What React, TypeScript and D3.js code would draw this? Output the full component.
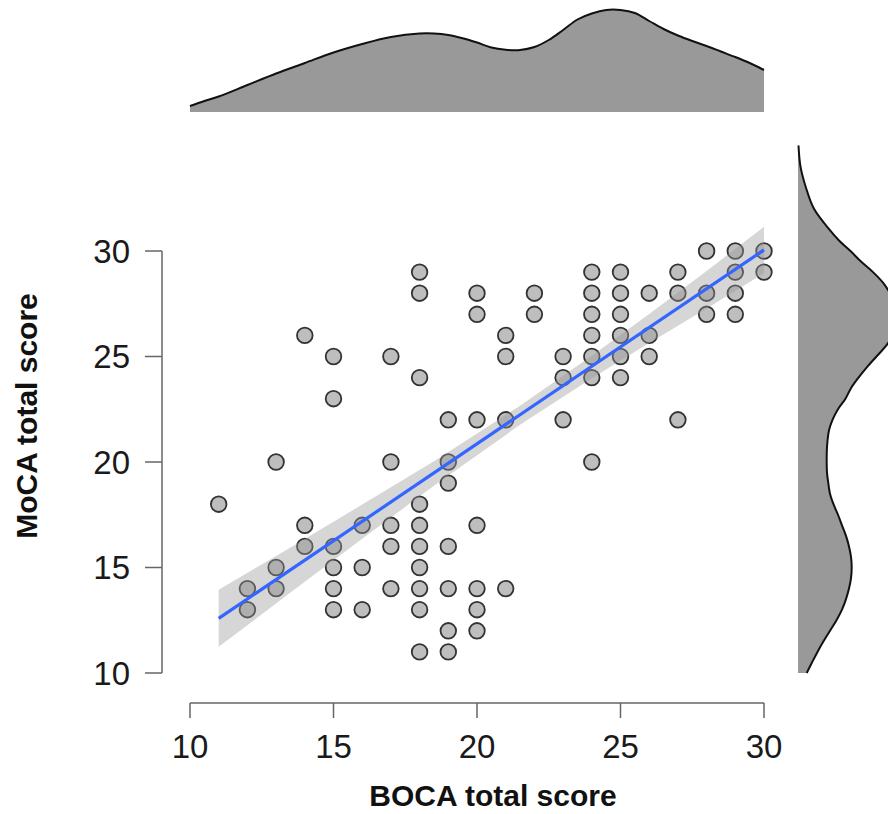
import React from "react";
import * as d3 from "d3";

// BOCA (x) and MoCA (y) total scores
const bocaScore = [
  11,
  12, 12,
  13, 13, 13,
  14, 14, 14,
  15, 15, 15, 15, 15, 15,
  16, 16, 16,
  17, 17, 17, 17, 17,
  18, 18, 18, 18, 18, 18, 18, 18, 18, 18,
  19, 19, 19, 19, 19, 19, 19,
  20, 20, 20, 20, 20, 20, 20,
  21, 21, 21, 21,
  22, 22,
  23, 23, 23,
  24, 24, 24, 24, 24, 24, 24,
  25, 25, 25, 25, 25, 25,
  26, 26, 26,
  27, 27, 27,
  28, 28, 28,
  29, 29, 29, 29,
  30, 30,
];
const mocaScore = [
  18,
  14, 13,
  20, 15, 14,
  26, 17, 16,
  25, 23, 16, 15, 14, 13,
  17, 15, 13,
  25, 20, 17, 16, 14,
  29, 28, 24, 18, 17, 16, 15, 14, 13, 11,
  22, 20, 19, 16, 14, 12, 11,
  28, 27, 22, 17, 14, 13, 12,
  26, 25, 22, 14,
  28, 27,
  25, 24, 22,
  29, 28, 27, 26, 25, 24, 20,
  29, 28, 27, 26, 25, 24,
  28, 26, 25,
  29, 28, 22,
  30, 28, 27,
  30, 29, 28, 27,
  30, 29,
];

// Fitted regression line and 95% band
const fitX = [11, 30];
const fitY = [12.59, 30.05];
const bandX = [11, 13.5, 16, 18.5, 21.5, 24, 26, 28, 30];
const bandLo = [11.24, 13.81, 16.36, 18.88, 21.76, 23.97, 25.64, 27.27, 28.95];
const bandHi = [13.94, 15.95, 17.98, 20.04, 22.66, 25.03, 27.02, 29.05, 31.15];

// Marginal density of BOCA (top)
const topDensX = [10, 10.5, 11, 12, 13, 14, 15, 16, 17, 18, 18.5, 19, 19.5, 20, 20.5, 21, 21.5, 22, 22.5, 23, 23.5, 24, 24.5, 25, 25.5, 26, 26.5, 27, 27.5, 28, 28.5, 29, 29.5, 30];
const topDensY = [0.006, 0.011, 0.0155, 0.027, 0.0385, 0.049, 0.0595, 0.068, 0.075, 0.0785, 0.0785, 0.077, 0.0738, 0.0695, 0.0645, 0.0623, 0.062, 0.065, 0.072, 0.082, 0.0925, 0.0985, 0.102, 0.102, 0.099, 0.091, 0.083, 0.0765, 0.071, 0.066, 0.0605, 0.055, 0.049, 0.042];

// Marginal density of MoCA (right)
const rightDensX = [35, 34, 33, 32, 31, 30.5, 30, 29.5, 29, 28.5, 28, 27.5, 27, 26.5, 26, 25.5, 25, 24.5, 24, 23.5, 23, 22.5, 22, 21.5, 21, 20.5, 20, 19.5, 19, 18.5, 18, 17.5, 17, 16.5, 16, 15.5, 15, 14.5, 14, 13.5, 13, 12.5, 12, 11.5, 11, 10.5, 10];
const rightDensY = [0.0005, 0.0025, 0.008, 0.016, 0.0317, 0.041, 0.0525, 0.063, 0.075, 0.085, 0.092, 0.0975, 0.1, 0.099, 0.095, 0.088, 0.0785, 0.069, 0.0605, 0.053, 0.0475, 0.04, 0.0345, 0.031, 0.0295, 0.0288, 0.0287, 0.029, 0.0303, 0.032, 0.0355, 0.04, 0.044, 0.048, 0.051, 0.053, 0.0537, 0.053, 0.051, 0.048, 0.044, 0.0385, 0.032, 0.0255, 0.0195, 0.014, 0.0087];

const xTicks = [10, 15, 20, 25, 30];
const yTicks = [10, 15, 20, 25, 30];

const FONT = "'Liberation Sans', Arial, Helvetica, sans-serif";

export default function App() {
  const W = 888;
  const H = 814;
  const x = d3.scaleLinear().domain([10, 30]).range([190, 764]);
  const y = d3.scaleLinear().domain([10, 30]).range([673, 251]);
  const topD = d3.scaleLinear().domain([0, 0.1]).range([112, 12]);
  const rightD = d3.scaleLinear().domain([0, 0.1]).range([798, 898]);

  const pts = bocaScore.map((b, i) => [b, mocaScore[i]] as [number, number]);
  const topData = topDensX.map((v, i) => [v, topDensY[i]] as [number, number]);
  const rightData = rightDensX.map((v, i) => [v, rightDensY[i]] as [number, number]);
  const bandData = bandX.map((v, i) => [v, bandLo[i], bandHi[i]] as [number, number, number]);

  const curve = d3.curveCatmullRom.alpha(0.5);
  const topArea = d3.area<[number, number]>().x((d) => x(d[0])).y0(topD(0)).y1((d) => topD(d[1])).curve(curve);
  const topLine = d3.line<[number, number]>().x((d) => x(d[0])).y((d) => topD(d[1])).curve(curve);
  const rightArea = d3.area<[number, number]>().y((d) => y(d[0])).x0(rightD(0)).x1((d) => rightD(d[1])).curve(curve);
  const rightLine = d3.line<[number, number]>().y((d) => y(d[0])).x((d) => rightD(d[1])).curve(curve);
  const bandArea = d3.area<[number, number, number]>().x((d) => x(d[0])).y0((d) => y(d[1])).y1((d) => y(d[2]));
  const fitLine = d3.line<number>().x((d) => x(d)).y((d, i) => y(fitY[i]));

  const axisColor = "#666";
  const yAxisX = 162;
  const xAxisY = 703;

  return (
    <div style={{ position: "absolute", left: 0, top: 0, width: W, height: H, overflow: "hidden", background: "#fff" }}>
      <svg width={W} height={H} style={{ display: "block" }} fontFamily={FONT}>
        {/* top marginal density */}
        <path d={topArea(topData) || ""} fill="#999999" stroke="none" />
        <path d={topLine(topData) || ""} fill="none" stroke="#111" strokeWidth={2} />

        {/* right marginal density */}
        <path d={rightArea(rightData) || ""} fill="#999999" stroke="none" />
        <path d={rightLine(rightData) || ""} fill="none" stroke="#111" strokeWidth={2} />

        {/* y axis */}
        <line x1={yAxisX} x2={yAxisX} y1={y(30)} y2={y(10)} stroke={axisColor} strokeWidth={1.5} />
        {yTicks.map((t) => (
          <g key={"y" + t}>
            <line x1={yAxisX - 17} x2={yAxisX} y1={y(t)} y2={y(t)} stroke={axisColor} strokeWidth={1.5} />
            <text x={130} y={y(t)} dy="0.36em" textAnchor="end" fontSize={33} fill="#1a1a1a">
              {t}
            </text>
          </g>
        ))}

        {/* x axis */}
        <line x1={x(10)} x2={x(30)} y1={xAxisY} y2={xAxisY} stroke={axisColor} strokeWidth={1.5} />
        {xTicks.map((t) => (
          <g key={"x" + t}>
            <line x1={x(t)} x2={x(t)} y1={xAxisY} y2={xAxisY + 15} stroke={axisColor} strokeWidth={1.5} />
            <text x={x(t)} y={758} textAnchor="middle" fontSize={33} fill="#1a1a1a">
              {t}
            </text>
          </g>
        ))}

        {/* points */}
        {pts.map((p, i) => (
          <circle key={i} cx={x(p[0])} cy={y(p[1])} r={7.8} fill="#bebebe" stroke="#333" strokeWidth={1.8} />
        ))}

        {/* confidence band and fit */}
        <path d={bandArea(bandData) || ""} fill="#999999" fillOpacity={0.4} stroke="none" />
        <path d={fitLine(fitX) || ""} fill="none" stroke="#3366FF" strokeWidth={3.2} />

        {/* axis titles */}
        <text x={493} y={806} textAnchor="middle" fontSize={30} fontWeight="bold" fill="#111">
          BOCA total score
        </text>
        <text transform={`translate(37,416) rotate(-90)`} textAnchor="middle" fontSize={30} fontWeight="bold" fill="#111">
          MoCA total score
        </text>
      </svg>
    </div>
  );
}
